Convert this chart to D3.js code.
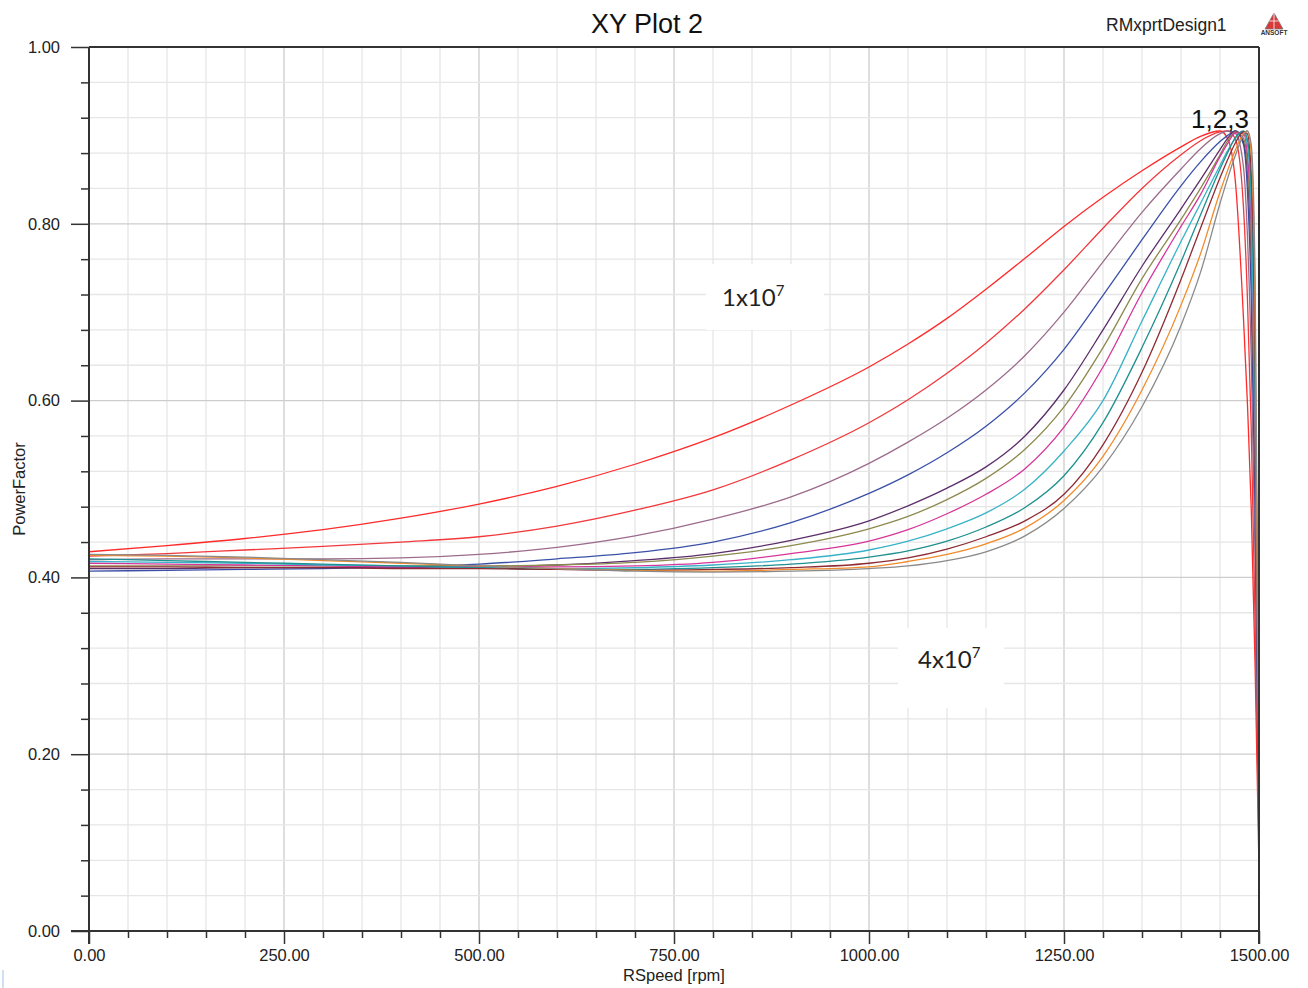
<!DOCTYPE html>
<html>
<head>
<meta charset="utf-8">
<script src="https://cdn.jsdelivr.net/npm/d3@7"></script>
<style>
  body { margin: 0; background: #fff; }
  svg { display: block; }
</style>
</head>
<body>
<script>
//speed samples (rpm), shared by every curve
var speed = [0, 100, 200, 300, 400, 500, 600, 700, 800, 900, 1000, 1050, 1100, 1150, 1200,
             1250, 1300, 1350, 1400, 1425, 1450, 1460, 1470, 1480, 1485, 1490, 1495, 1500];

//power factor curves (left-most / top curve first)
var pfRed1    = [0.429,0.436,0.444,0.454,0.467,0.483,0.503,0.528,0.558,0.595,0.638,0.664,0.693,0.726,0.761,0.797,0.830,0.860,0.887,0.899,0.905,0.896,0.845,0.695,0.600,0.480,0.300,0.070];
var pfRed2    = [0.424,0.427,0.431,0.435,0.440,0.446,0.458,0.476,0.499,0.533,0.575,0.601,0.631,0.665,0.704,0.748,0.795,0.840,0.878,0.894,0.904,0.905,0.895,0.820,0.720,0.570,0.350,0.090];
var pfMauve   = [0.420,0.421,0.421,0.421,0.422,0.426,0.434,0.447,0.466,0.491,0.529,0.553,0.580,0.612,0.651,0.700,0.757,0.813,0.862,0.885,0.902,0.905,0.902,0.865,0.790,0.650,0.420,0.110];
var pfBlue    = [0.407,0.408,0.409,0.410,0.412,0.415,0.421,0.428,0.440,0.462,0.495,0.516,0.541,0.571,0.609,0.658,0.719,0.782,0.843,0.870,0.893,0.900,0.905,0.890,0.840,0.720,0.480,0.130];
var pfPurple  = [0.410,0.410,0.411,0.411,0.411,0.412,0.414,0.419,0.427,0.442,0.464,0.481,0.501,0.525,0.560,0.612,0.680,0.752,0.817,0.850,0.884,0.897,0.905,0.893,0.860,0.760,0.520,0.150];
var pfOlive   = [0.413,0.413,0.413,0.413,0.413,0.413,0.414,0.417,0.424,0.436,0.455,0.469,0.488,0.512,0.545,0.593,0.660,0.738,0.805,0.840,0.878,0.894,0.904,0.897,0.870,0.780,0.550,0.160];
var pfMagenta = [0.416,0.415,0.414,0.413,0.412,0.412,0.412,0.413,0.417,0.427,0.441,0.454,0.472,0.494,0.523,0.570,0.638,0.722,0.797,0.833,0.876,0.891,0.903,0.902,0.880,0.800,0.580,0.180];
var pfCyan    = [0.418,0.417,0.416,0.414,0.413,0.411,0.410,0.411,0.414,0.420,0.431,0.441,0.455,0.473,0.500,0.543,0.600,0.690,0.780,0.823,0.866,0.883,0.897,0.904,0.890,0.820,0.600,0.200];
var pfTeal    = [0.421,0.419,0.417,0.415,0.413,0.411,0.409,0.409,0.411,0.415,0.423,0.430,0.441,0.457,0.479,0.515,0.575,0.660,0.757,0.810,0.862,0.881,0.898,0.905,0.896,0.840,0.630,0.220];
var pfMaroon  = [0.412,0.412,0.411,0.411,0.410,0.410,0.409,0.408,0.409,0.411,0.416,0.422,0.432,0.446,0.464,0.494,0.550,0.632,0.737,0.795,0.852,0.873,0.892,0.904,0.902,0.860,0.660,0.180];
var pfOrange  = [0.425,0.424,0.422,0.419,0.416,0.413,0.410,0.408,0.407,0.409,0.412,0.418,0.426,0.438,0.456,0.487,0.537,0.612,0.708,0.766,0.836,0.861,0.884,0.902,0.905,0.880,0.700,0.160];
var pfGrey    = [0.426,0.425,0.423,0.420,0.417,0.413,0.410,0.407,0.406,0.407,0.410,0.413,0.419,0.429,0.447,0.478,0.525,0.593,0.685,0.745,0.823,0.852,0.878,0.900,0.905,0.890,0.740,0.200];

//axis tick values
var xMajor = [0, 250, 500, 750, 1000, 1250, 1500];
var yMajor = [0, 0.2, 0.4, 0.6, 0.8, 1.0];

//annotations
var titleText = "XY Plot 2";
var designText = "RMxprtDesign1";
var peakLabel = "1,2,3";

window.onload = drawChart;

function drawChart(){

    var curves = [pfRed1, pfRed2, pfMauve, pfBlue, pfPurple, pfOlive, pfMagenta,
                  pfCyan, pfTeal, pfMaroon, pfOrange, pfGrey];
    var colors = ["#ff2a2a", "#f2383c", "#9c6b8c", "#3a50a8", "#5c2e6a", "#8c8a4e",
                  "#d6359a", "#38b2c8", "#1f8f8f", "#8e2a34", "#f28a2a", "#8a8a8a"];

    var width = 1308, height = 988;
    var pLeft = 89, pRight = 1259, pTop = 47, pBottom = 931;

    var svg = d3.select("body").append("svg")
        .attr("width", width)
        .attr("height", height);

    var x = d3.scaleLinear().domain([0, 1500]).range([pLeft, pRight]);
    var y = d3.scaleLinear().domain([0, 1]).range([pBottom, pTop]);

    //minor + major grid
    var xMinor = d3.range(50, 1500, 50);
    var yMinor = d3.range(1, 25).map(function(i){ return i * 0.04; });
    function isMajorY(d){ return Math.abs(d * 5 - Math.round(d * 5)) < 1e-6; }

    svg.append("g").selectAll("line")
        .data(xMinor).enter().append("line")
        .attr("x1", function(d){ return x(d); }).attr("x2", function(d){ return x(d); })
        .attr("y1", pTop).attr("y2", pBottom)
        .attr("stroke", function(d){ return d % 250 === 0 ? "#cdcdcd" : "#e6e6e6"; })
        .attr("stroke-width", 1.3);

    svg.append("g").selectAll("line")
        .data(yMinor).enter().append("line")
        .attr("x1", pLeft).attr("x2", pRight)
        .attr("y1", function(d){ return y(d); }).attr("y2", function(d){ return y(d); })
        .attr("stroke", function(d){ return isMajorY(d) ? "#cdcdcd" : "#e6e6e6"; })
        .attr("stroke-width", 1.3);

    //text boxes for the 1x10^7 and 4x10^7 notes cover the grid
    svg.append("rect").attr("x", 706).attr("y", 264).attr("width", 118).attr("height", 66).attr("fill", "#fff");
    svg.append("rect").attr("x", 898).attr("y", 628).attr("width", 106).attr("height", 80).attr("fill", "#fff");

    //curves
    svg.append("clipPath").attr("id", "plotClip")
      .append("rect").attr("x", pLeft).attr("y", pTop)
      .attr("width", pRight - pLeft).attr("height", pBottom - pTop);

    var line = d3.line()
        .x(function(d, i){ return x(speed[i]); })
        .y(function(d){ return y(d); })
        .curve(d3.curveMonotoneX);

    svg.append("g").attr("clip-path", "url(#plotClip)")
      .selectAll("path")
        .data(curves).enter().append("path")
        .attr("d", line)
        .attr("fill", "none")
        .attr("stroke", function(d, i){ return colors[i]; })
        .attr("stroke-width", 1.3);

    //axes
    var axisColor = "#333";
    svg.append("g")
        .attr("transform", "translate(0," + pBottom + ")")
        .call(d3.axisBottom(x).tickValues(xMajor).tickSize(13).tickPadding(5).tickFormat(d3.format(".2f")));
    svg.append("g")
        .attr("transform", "translate(0," + pBottom + ")")
        .call(d3.axisBottom(x).tickValues(xMinor.filter(function(d){ return d % 250 !== 0; })).tickSize(7).tickFormat(""));

    svg.append("g")
        .attr("transform", "translate(" + pLeft + ",0)")
        .call(d3.axisLeft(y).tickValues(yMajor).tickSize(18).tickPadding(11).tickFormat(d3.format(".2f")));
    svg.append("g")
        .attr("transform", "translate(" + pLeft + ",0)")
        .call(d3.axisLeft(y).tickValues(yMinor.filter(function(d){ return !isMajorY(d); })).tickSize(8).tickFormat(""));

    svg.selectAll(".domain").remove();
    svg.selectAll(".tick line").attr("stroke", axisColor).attr("stroke-width", 1.5);
    svg.selectAll(".tick text")
        .attr("fill", "#222")
        .style("font-family", "'Liberation Sans', Arial, sans-serif")
        .style("font-size", "16.5px");

    //frame
    svg.append("line").attr("x1", 71).attr("x2", pRight).attr("y1", pBottom).attr("y2", pBottom)
        .attr("stroke", axisColor).attr("stroke-width", 2);
    svg.append("line").attr("x1", pLeft).attr("x2", pLeft).attr("y1", pTop).attr("y2", pBottom + 13)
        .attr("stroke", axisColor).attr("stroke-width", 2);
    svg.append("line").attr("x1", pLeft).attr("x2", pRight).attr("y1", pTop).attr("y2", pTop)
        .attr("stroke", axisColor).attr("stroke-width", 2);
    svg.append("line").attr("x1", pRight).attr("x2", pRight).attr("y1", pTop).attr("y2", pBottom + 13)
        .attr("stroke", axisColor).attr("stroke-width", 2);

    //titles
    var sans = "'Liberation Sans', Arial, sans-serif";
    svg.append("text").attr("x", 647).attr("y", 33)
        .attr("text-anchor", "middle").style("font-family", sans).style("font-size", "27px")
        .attr("fill", "#111").text(titleText);
    svg.append("text").attr("x", 1106).attr("y", 31)
        .style("font-family", sans).style("font-size", "17.5px")
        .attr("fill", "#222").text(designText);

    //little ansoft logo
    var logo = svg.append("g").attr("transform", "translate(1274,13)");
    logo.append("path").attr("d", "M0,0 L9,16 L-9,16 Z").attr("fill", "#d83a3a")
        .attr("stroke", "#777").attr("stroke-width", 0.8);
    logo.append("path").attr("d", "M-4.5,8 L4.5,8 M0,0 L0,16").attr("stroke", "#fff").attr("stroke-width", 0.8);
    logo.append("text").attr("x", 0).attr("y", 22).attr("text-anchor", "middle")
        .style("font-family", sans).style("font-size", "6.5px").style("font-weight", "bold")
        .attr("fill", "#333").text("ANSOFT");

    svg.append("text")
        .attr("transform", "translate(25,489) rotate(-90)")
        .attr("text-anchor", "middle").style("font-family", sans).style("font-size", "16.5px")
        .attr("fill", "#222").text("PowerFactor");
    svg.append("text").attr("x", 674).attr("y", 981)
        .attr("text-anchor", "middle").style("font-family", sans).style("font-size", "16.5px")
        .attr("fill", "#222").text("RSpeed [rpm]");

    //curve annotations
    svg.append("text").attr("x", 1220).attr("y", 128)
        .attr("text-anchor", "middle").style("font-family", sans).style("font-size", "26px")
        .attr("fill", "#111").text(peakLabel);

    var note = "Lato, 'Open Sans', sans-serif";
    function powerLabel(xp, yp, mant){
        var t = svg.append("text").attr("x", xp).attr("y", yp)
            .style("font-family", note).style("font-size", "24px").attr("fill", "#222");
        t.append("tspan").text(mant + "x10");
        t.append("tspan").attr("dy", -10).style("font-size", "15px").text("7");
    }
    powerLabel(722, 306, "1");
    powerLabel(918, 668, "4");

    //stray mark at the bottom-left edge of the screenshot
    svg.append("rect").attr("x", 2).attr("y", 970).attr("width", 2).attr("height", 18).attr("fill", "#cfe0f5");
}
</script>
</body>
</html>
